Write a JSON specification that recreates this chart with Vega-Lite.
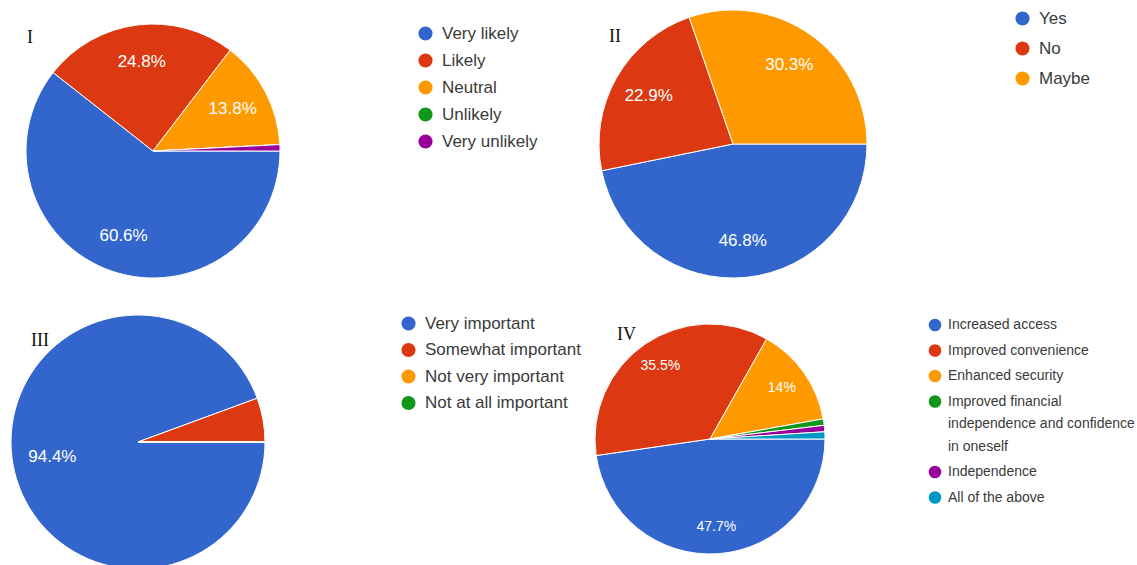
{
  "$schema": "https://vega.github.io/schema/vega-lite/v6.json",
  "padding": 0,
  "background": "white",
  "spacing": 11,
  "datasets": {
    "q1": [
      {"c": "Very likely", "v": 0.606, "i": 1},
      {"c": "Likely", "v": 0.248, "i": 2},
      {"c": "Neutral", "v": 0.138, "i": 3},
      {"c": "Unlikely", "v": 0.0, "i": 4},
      {"c": "Very unlikely", "v": 0.008, "i": 5}
    ],
    "q2": [
      {"c": "Yes", "v": 0.468, "i": 1},
      {"c": "No", "v": 0.229, "i": 2},
      {"c": "Maybe", "v": 0.303, "i": 3}
    ],
    "q3": [
      {"c": "Very important", "v": 0.944, "i": 1},
      {"c": "Somewhat important", "v": 0.056, "i": 2},
      {"c": "Not very important", "v": 0.0, "i": 3},
      {"c": "Not at all important", "v": 0.0, "i": 4}
    ],
    "q4": [
      {"c": "Increased access", "v": 0.477, "i": 1},
      {"c": "Improved convenience", "v": 0.355, "i": 2},
      {"c": "Enhanced security", "v": 0.14, "i": 3},
      {"c": "Improved financial independence and confidence in oneself", "v": 0.009, "i": 4},
      {"c": "Independence", "v": 0.009, "i": 5},
      {"c": "All of the above", "v": 0.01, "i": 6}
    ]
  },
  "resolve": {"scale": {"color": "independent", "theta": "independent"}},
  "vconcat": [
    {
      "spacing": 282,
      "bounds": "flush",
      "resolve": {"scale": {"color": "independent", "theta": "independent"}},
      "hconcat": [
        {
          "width": 306,
          "height": 302,
          "title": {"text": "I", "anchor": "start", "frame": "group", "offset": 0, "dx": 27, "dy": 61, "baseline": "alphabetic", "font": "Liberation Serif", "fontSize": 18, "fontWeight": "normal", "color": "#111111"},
          "data": {"name": "q1"},
          "encoding": {
            "theta": {"field": "v", "type": "quantitative", "stack": true, "scale": {"domain": [0, 1], "range": [1.5707963, 7.8539816]}},
            "order": {"field": "i", "type": "quantitative"}
          },
          "layer": [
            {
              "mark": {"type": "arc", "outerRadius": 127, "stroke": "white", "strokeWidth": 1},
              "encoding": {
                "color": {"field": "c", "type": "nominal",
                  "scale": {"domain": ["Very likely", "Likely", "Neutral", "Unlikely", "Very unlikely"], "range": ["#3366cc", "#dc3912", "#ff9900", "#109618", "#990099"]},
                  "legend": {"orient": "none", "legendX": 417, "legendY": 25, "title": null, "rowPadding": 9}}
              }
            },
            {
              "mark": {"type": "text", "radius": 90, "fontSize": 17, "font": "Liberation Sans", "fill": "white"},
              "encoding": {
                "text": {"condition": {"test": "datum.v < 0.1", "value": ""}, "field": "v", "type": "quantitative", "format": ".3~%"}
              }
            }
          ]
        },
        {
          "width": 290,
          "height": 288,
          "title": {"text": "II", "anchor": "start", "frame": "group", "offset": 0, "dx": 21, "dy": 60, "baseline": "alphabetic", "font": "Liberation Serif", "fontSize": 18, "fontWeight": "normal", "color": "#111111"},
          "data": {"name": "q2"},
          "encoding": {
            "theta": {"field": "v", "type": "quantitative", "stack": true, "scale": {"domain": [0, 1], "range": [1.5707963, 7.8539816]}},
            "order": {"field": "i", "type": "quantitative"}
          },
          "layer": [
            {
              "mark": {"type": "arc", "outerRadius": 134, "stroke": "white", "strokeWidth": 1},
              "encoding": {
                "color": {"field": "c", "type": "nominal",
                  "scale": {"domain": ["Yes", "No", "Maybe"], "range": ["#3366cc", "#dc3912", "#ff9900"]},
                  "legend": {"orient": "none", "legendX": 426, "legendY": 10, "title": null, "rowPadding": 12}}
              }
            },
            {
              "mark": {"type": "text", "radius": 97, "fontSize": 17, "font": "Liberation Sans", "fill": "white"},
              "encoding": {
                "text": {"condition": {"test": "datum.v < 0.1", "value": ""}, "field": "v", "type": "quantitative", "format": ".3~%"}
              }
            }
          ]
        }
      ]
    },
    {
      "spacing": 319,
      "bounds": "flush",
      "resolve": {"scale": {"color": "independent", "theta": "independent"}},
      "hconcat": [
        {
          "width": 276,
          "height": 254,
          "title": {"text": "III", "anchor": "start", "frame": "group", "offset": 0, "dx": 31, "dy": 51, "baseline": "alphabetic", "font": "Liberation Serif", "fontSize": 18, "fontWeight": "normal", "color": "#111111"},
          "data": {"name": "q3"},
          "encoding": {
            "theta": {"field": "v", "type": "quantitative", "stack": true, "scale": {"domain": [0, 1], "range": [1.5707963, 7.8539816]}},
            "order": {"field": "i", "type": "quantitative"}
          },
          "layer": [
            {
              "mark": {"type": "arc", "outerRadius": 127, "stroke": "white", "strokeWidth": 1},
              "encoding": {
                "color": {"field": "c", "type": "nominal",
                  "scale": {"domain": ["Very important", "Somewhat important", "Not very important", "Not at all important"], "range": ["#3366cc", "#dc3912", "#ff9900", "#109618"]},
                  "legend": {"orient": "none", "legendX": 400, "legendY": 0, "title": null, "rowPadding": 8.5}}
              }
            },
            {
              "mark": {"type": "text", "radius": 87, "fontSize": 17, "font": "Liberation Sans", "fill": "white"},
              "encoding": {
                "text": {"condition": {"test": "datum.v < 0.1", "value": ""}, "field": "v", "type": "quantitative", "format": ".3~%"}
              }
            }
          ]
        },
        {
          "width": 230,
          "height": 248,
          "title": {"text": "IV", "anchor": "start", "frame": "group", "offset": 0, "dx": 22, "dy": 43, "baseline": "alphabetic", "font": "Liberation Serif", "fontSize": 18, "fontWeight": "normal", "color": "#111111"},
          "data": {"name": "q4"},
          "encoding": {
            "theta": {"field": "v", "type": "quantitative", "stack": true, "scale": {"domain": [0, 1], "range": [1.5707963, 7.8539816]}},
            "order": {"field": "i", "type": "quantitative"}
          },
          "layer": [
            {
              "mark": {"type": "arc", "outerRadius": 115, "stroke": "white", "strokeWidth": 1},
              "encoding": {
                "color": {"field": "c", "type": "nominal",
                  "scale": {"domain": ["Increased access", "Improved convenience", "Enhanced security", "Improved financial independence and confidence in oneself", "Independence", "All of the above"], "range": ["#3366cc", "#dc3912", "#ff9900", "#109618", "#990099", "#0099c6"]},
                  "legend": {"orient": "none", "legendX": 333, "legendY": 3, "title": null, "symbolSize": 160, "rowPadding": 11.5, "labelFontSize": 14, "labelOffset": 6, "labelLimit": 300,
                    "labelExpr": "datum.label == 'Improved financial independence and confidence in oneself' ? ['Improved financial', 'independence and confidence', 'in oneself'] : datum.label"}}
              }
            },
            {
              "mark": {"type": "text", "radius": 88, "fontSize": 14, "font": "Liberation Sans", "fill": "white"},
              "encoding": {
                "text": {"condition": {"test": "datum.v < 0.1", "value": ""}, "field": "v", "type": "quantitative", "format": ".3~%"}
              }
            }
          ]
        }
      ]
    }
  ],
  "config": {
    "view": {"stroke": null, "fill": "white"},
    "style": {"guide-label": {"lineHeight": 22.5}},
    "legend": {
      "symbolType": "circle",
      "symbolSize": 200,
      "symbolStrokeWidth": 0,
      "labelFont": "Liberation Sans",
      "labelFontSize": 17,
      "labelColor": "#3a3a3a",
      "rowPadding": 10,
      "labelOffset": 8,
      "padding": 0,
      "offset": 0,
      "labelLimit": 300
    }
  }
}
